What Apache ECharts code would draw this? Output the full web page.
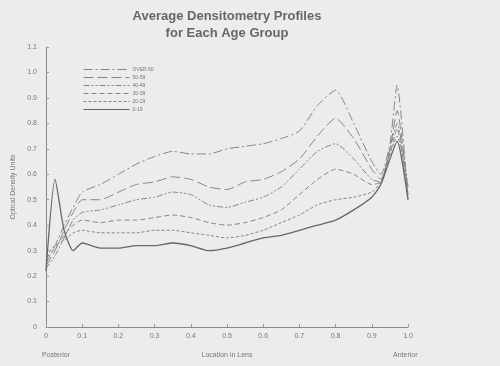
<!DOCTYPE html>
<html><head><meta charset="utf-8">
<script src="https://cdn.jsdelivr.net/npm/echarts@6/dist/echarts.min.js"></script>
<style>html,body{margin:0;padding:0;background:#ececea;}#c{width:500px;height:366px;}</style>
</head><body><div id="c"></div>
<script>
var xs = [0, 0.025, 0.05, 0.075, 0.1, 0.15, 0.2, 0.25, 0.3, 0.35, 0.4, 0.45, 0.5, 0.55, 0.6, 0.65, 0.7, 0.75, 0.8, 0.85, 0.9, 0.925, 0.95, 0.97, 1.0];
var seriesNames = ["OVER 60", "50-59", "40-49", "30-39", "20-29", "0-19"];
var over60 = [0.25,0.32,0.40,0.47,0.53,0.56,0.60,0.64,0.67,0.69,0.68,0.68,0.70,0.71,0.72,0.74,0.77,0.87,0.93,0.80,0.65,0.60,0.72,0.95,0.50];
var age50 = [0.24,0.30,0.38,0.45,0.50,0.50,0.53,0.56,0.57,0.59,0.58,0.55,0.54,0.57,0.58,0.61,0.66,0.75,0.82,0.74,0.62,0.58,0.70,0.85,0.52];
var age40 = [0.23,0.28,0.35,0.42,0.45,0.46,0.48,0.50,0.51,0.53,0.52,0.48,0.47,0.49,0.51,0.55,0.62,0.69,0.72,0.66,0.58,0.57,0.70,0.80,0.55];
var age30 = [0.27,0.31,0.36,0.40,0.42,0.41,0.42,0.42,0.43,0.44,0.43,0.41,0.40,0.41,0.43,0.46,0.52,0.58,0.62,0.60,0.56,0.57,0.68,0.78,0.52];
var age20 = [0.28,0.32,0.34,0.37,0.38,0.37,0.37,0.37,0.38,0.38,0.37,0.36,0.35,0.36,0.38,0.41,0.44,0.48,0.50,0.51,0.53,0.57,0.68,0.75,0.55];
var age0 = [0.22,0.58,0.38,0.30,0.33,0.31,0.31,0.32,0.32,0.33,0.32,0.30,0.31,0.33,0.35,0.36,0.38,0.40,0.42,0.46,0.51,0.56,0.66,0.73,0.50];
var xTicks = ["0","0.1","0.2","0.3","0.4","0.5","0.6","0.7","0.8","0.9","1.0"];
var yTicks = ["0","0.1","0.2","0.3","0.4","0.5","0.6","0.7","0.8","0.9","1.0","1.1"];

var allVals = [over60, age50, age40, age30, age20, age0];
var dashes = [[9,3,2,3],[10,4],[6,2,2,2,2,2],[5,3],[3,2],'solid'];
var font = '"Liberation Sans", Arial, sans-serif';
var chart = echarts.init(document.getElementById('c'));
chart.setOption({
  backgroundColor: '#ececea',
  animation: false,
  textStyle: {fontFamily: font},
  title: {
    text: 'Average Densitometry Profiles\nfor Each Age Group',
    left: 222, top: 3, textAlign: 'center',
    textStyle: {fontSize: 13, fontWeight: 'bold', color: '#666', lineHeight: 17, fontFamily: font}
  },
  legend: {
    orient: 'vertical', left: 78, top: 62,
    itemWidth: 46, itemHeight: 4, itemGap: 3,
    itemStyle: {opacity: 0},
    lineStyle: {width: 1},
    textStyle: {fontSize: 5, color: '#777', padding: [0,0,0,-2]},
    data: seriesNames
  },
  grid: {left: 46, right: 92, top: 47, bottom: 39},
  xAxis: {
    type: 'value', min: 0, max: 1, interval: 0.1,
    name: 'Location in Lens', nameLocation: 'middle', nameGap: 25,
    nameTextStyle: {fontSize: 7, color: '#777'},
    axisLine: {lineStyle: {color: '#888', width: 1}},
    axisTick: {inside: true, length: 3, lineStyle: {color: '#999'}},
    splitLine: {show: false},
    axisLabel: {fontSize: 7, color: '#777', margin: 6, formatter: function(v){ return xTicks[Math.round(v*10)]; }}
  },
  yAxis: {
    type: 'value', min: 0, max: 1.1, interval: 0.1,
    name: 'Optical Density Units', nameLocation: 'middle', nameGap: 27,
    nameTextStyle: {fontSize: 7, color: '#777'},
    axisLine: {show: true, lineStyle: {color: '#888', width: 1}},
    axisTick: {show: true, inside: true, length: 3, lineStyle: {color: '#999'}},
    splitLine: {show: false},
    axisLabel: {fontSize: 7, color: '#777', margin: 9, formatter: function(v){ return yTicks[Math.round(v*10)]; }}
  },
  graphic: [
    {type: 'text', left: 42, top: 352, style: {text: 'Posterior', fontSize: 7, fill: '#777', fontFamily: font}},
    {type: 'text', left: 393, top: 352, style: {text: 'Anterior', fontSize: 7, fill: '#777', fontFamily: font}}
  ],
  series: allVals.map(function(vals, i){
    return {
      name: seriesNames[i], type: 'line', symbol: 'none', smooth: 0.2,
      data: xs.map(function(x, j){ return [x, vals[j]]; }),
      lineStyle: {color: i === 5 ? '#666' : '#858585', width: i === 5 ? 1.3 : 1, type: dashes[i]},
      itemStyle: {color: '#858585'}
    };
  })
});
</script></body></html>
